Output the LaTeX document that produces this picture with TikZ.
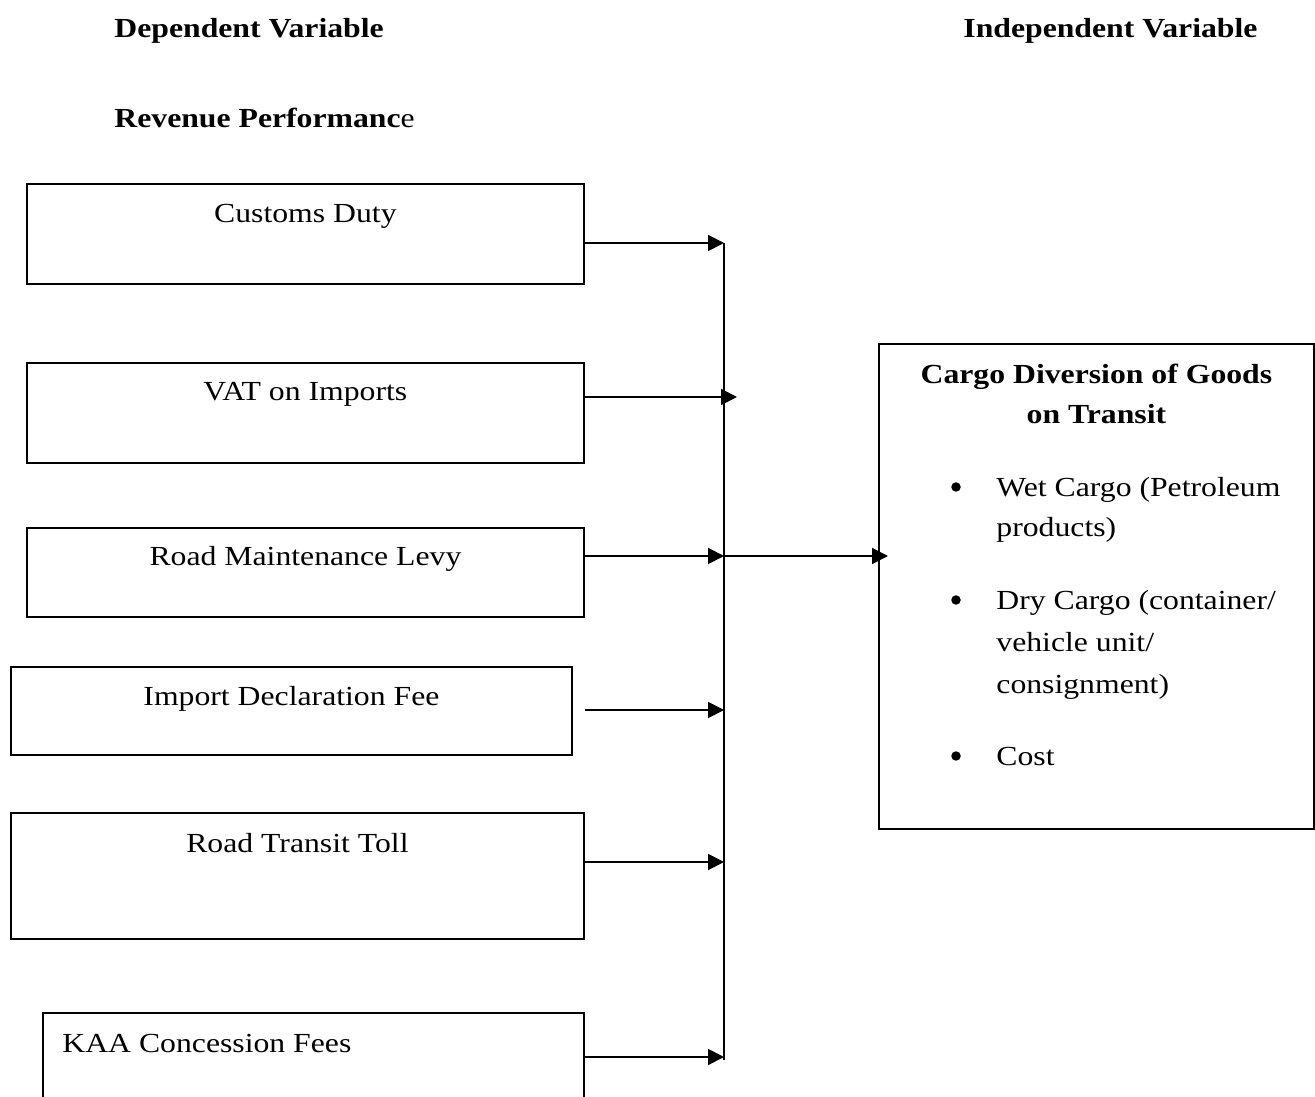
\documentclass[tikz,border=0pt]{standalone}
\usepackage{fontspec}
\setmainfont{Liberation Serif}
\usetikzlibrary{arrows.meta,calc,positioning}

\begin{document}
\begin{tikzpicture}[x=0.02cm, y=-0.02cm,
		box/.style={draw, line width=1.1pt, anchor=north west, inner sep=0pt},
		lbl/.style={font=\fontsize{15.7}{23.2}\selectfont, inner sep=0pt, xscale=1.15, transform shape},
		boxlbl/.style={lbl, anchor=base},
		dot/.style={circle, fill, inner sep=0pt, minimum size=0.19cm},
		arr/.style={-{Triangle[length=9pt,width=9pt]}, line width=1.1pt}]
			%%%%% START %%%%%
			
			\useasboundingbox (0,0) rectangle (1315,1097);
			
			\node[lbl, anchor=base west] (dep) at (114,38) {\textbf{Dependent Variable}};
			\node[lbl, anchor=base west] (indep) at (963,38) {\textbf{Independent Variable}};
			\node[lbl, anchor=base west] (rev) at (114,128) {\textbf{Revenue Performanc}e};
			
			\node[box, minimum width=11.14cm, minimum height=2cm] (cd) at (26,183) {};
			\node[box, minimum width=11.14cm, minimum height=2cm] (vat) at (26,362) {};
			\node[box, minimum width=11.14cm, minimum height=1.78cm] (rml) at (26,527) {};
			\node[box, minimum width=11.22cm, minimum height=1.76cm] (idf) at (10,666) {};
			\node[box, minimum width=11.46cm, minimum height=2.52cm] (rtt) at (10,812) {};
			\node[box, minimum width=10.82cm, minimum height=2.2cm] (kaa) at (42,1012) {};
			
			\node[boxlbl] (cdt) at ([yshift=-0.8cm]cd.north) {Customs Duty};
			\node[boxlbl] (vatt) at ([yshift=-0.78cm]vat.north) {VAT on Imports};
			\node[boxlbl] (rmlt) at ([yshift=-0.78cm]rml.north) {Road Maintenance Levy};
			\node[boxlbl] (idft) at ([yshift=-0.8cm]idf.north) {Import Declaration Fee};
			\node[boxlbl] (rttt) at ([yshift=-0.82cm]rtt.north) {Road Transit Toll};
			\node[lbl, anchor=base west] (kaat) at ([xshift=0.4cm, yshift=-0.82cm]kaa.north west) {KAA Concession Fees};
			
			\coordinate (btop) at (724,243);
			\coordinate (bbot) at (724,1060);
			\draw[line width=1pt] (btop) -- (bbot);
			
			\coordinate (b1) at (724,243);
			\coordinate (b2) at (737,397);
			\coordinate (b3) at (724,556);
			\coordinate (b4) at (724,710);
			\coordinate (b5) at (724,862);
			\coordinate (b6) at (724,1057);
			
			\draw[arr] (cd.east |- b1) -- (b1);
			\draw[arr] (vat.east |- b2) -- (b2);
			\draw[arr] (rml.east |- b3) -- (b3);
			\draw[arr] ($(idf.east |- b4)+(12,0)$) -- (b4);
			\draw[arr] (rtt.east |- b5) -- (b5);
			\draw[arr] (kaa.east |- b6) -- (b6);
			
			\node[box, minimum width=8.7cm, minimum height=9.7cm] (cdg) at (878,343) {};
			\draw[arr] (b3) -- ($(b3 -| cdg.west)+(10,0)$);
			
			% last line sits on the base anchor
			\node[lbl, anchor=base, align=center] (cdgt) at ([yshift=-1.62cm]cdg.north) {\textbf{Cargo Diversion of Goods}\\\textbf{on Transit}};
			
			\node[dot] (bl1) at (956,487) {};
			\node[lbl, anchor=base west, align=left] (it1) at (996,537) {Wet Cargo (Petroleum\\products)};
			\node[dot] (bl2) at (956,600) {};
			\node[lbl, anchor=base west, align=left, font=\fontsize{15.7}{23.8}\selectfont] (it2) at (996,693) {Dry Cargo (container/\\vehicle unit/\\consignment)};
			\node[dot] (bl3) at (956,756) {};
			\node[lbl, anchor=base west] (it3) at (996,765) {Cost};
			
			%%%%% END %%%%%
		\end{tikzpicture}
\end{document}
